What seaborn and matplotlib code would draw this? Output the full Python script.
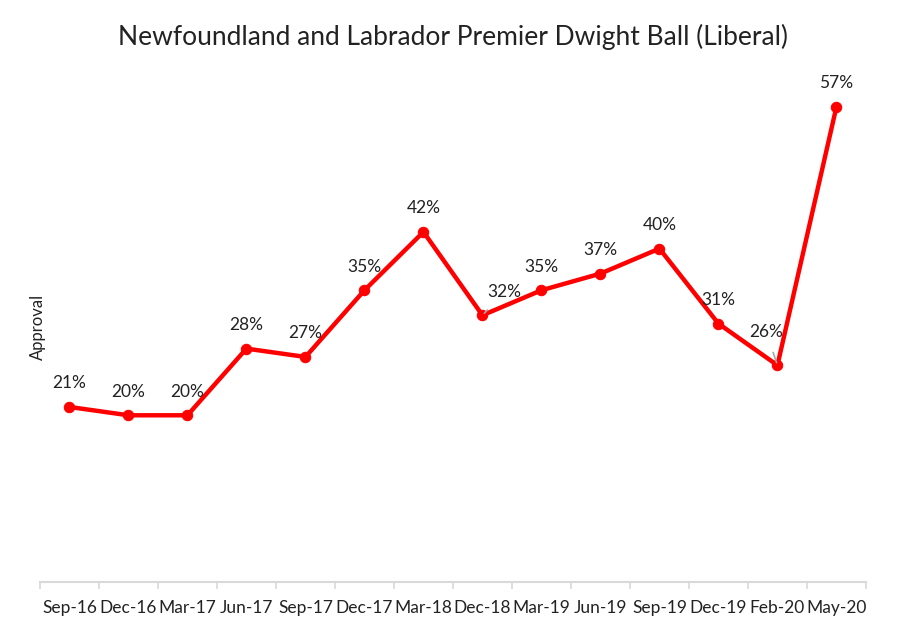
import matplotlib
matplotlib.use("Agg")
import matplotlib.pyplot as plt
import seaborn as sns
import pandas as pd

periods = ["Sep-16", "Dec-16", "Mar-17", "Jun-17", "Sep-17", "Dec-17", "Mar-18",
           "Dec-18", "Mar-19", "Jun-19", "Sep-19", "Dec-19", "Feb-20", "May-20"]
approval = [21, 20, 20, 28, 27, 35, 42, 32, 35, 37, 40, 31, 26, 57]

df = pd.DataFrame({"pos": range(len(periods)), "period": periods, "approval": approval})

sns.set_style("white")
plt.rcParams["font.family"] = ["Lato", "DejaVu Sans"]

fig = plt.figure(figsize=(9.02, 6.35), dpi=100)
ax = fig.add_axes([0.0443, 0.0835, 0.9157, 0.7875])

sns.lineplot(data=df, x="pos", y="approval", color="#ff0000", linewidth=3.2,
             marker="o", markersize=7.5, markeredgecolor="#ff0000", ax=ax)

# data labels; two of them are pushed off the line with a leader
offsets = {7: (16, 17), 12: (-8, 24)}
for i, v in enumerate(approval):
    dx, dy = offsets.get(i, (0, 17))
    arrow = None
    if i in offsets:
        arrow = dict(arrowstyle="-", color="#a6a6a6", lw=1.2, shrinkA=7, shrinkB=2)
    ax.annotate(f"{v}%", (i, v), xytext=(dx, dy), textcoords="offset points",
                ha="center", va="center", fontsize=12.5, color="#222222",
                arrowprops=arrow)

ax.set_xlim(-0.5, len(periods) - 0.5)
ax.set_ylim(0, 60)
ax.set_xticks(df["pos"])
ax.set_xticklabels(periods, fontsize=12.5, color="#222222")
ax.set_xticks([i - 0.5 for i in range(len(periods) + 1)], minor=True)
ax.tick_params(axis="x", which="major", length=0, pad=13)
ax.tick_params(axis="x", which="minor", length=5, color="#d9d9d9", width=1.2,
               direction="out", bottom=True)
ax.set_yticks([])
ax.set_xlabel("")
ax.set_ylabel("")
for side in ["top", "right", "left"]:
    ax.spines[side].set_visible(False)
ax.spines["bottom"].set_color("#d9d9d9")
ax.spines["bottom"].set_linewidth(1.5)

fig.text(0.042, 0.485, "Approval", rotation=90, ha="center", va="center",
         fontsize=12, color="#222222")
fig.text(0.502, 0.942, "Newfoundland and Labrador Premier Dwight Ball (Liberal)",
         ha="center", va="center", fontsize=19, color="#222222")

fig.savefig("out.png", dpi=100)
plt.close()
